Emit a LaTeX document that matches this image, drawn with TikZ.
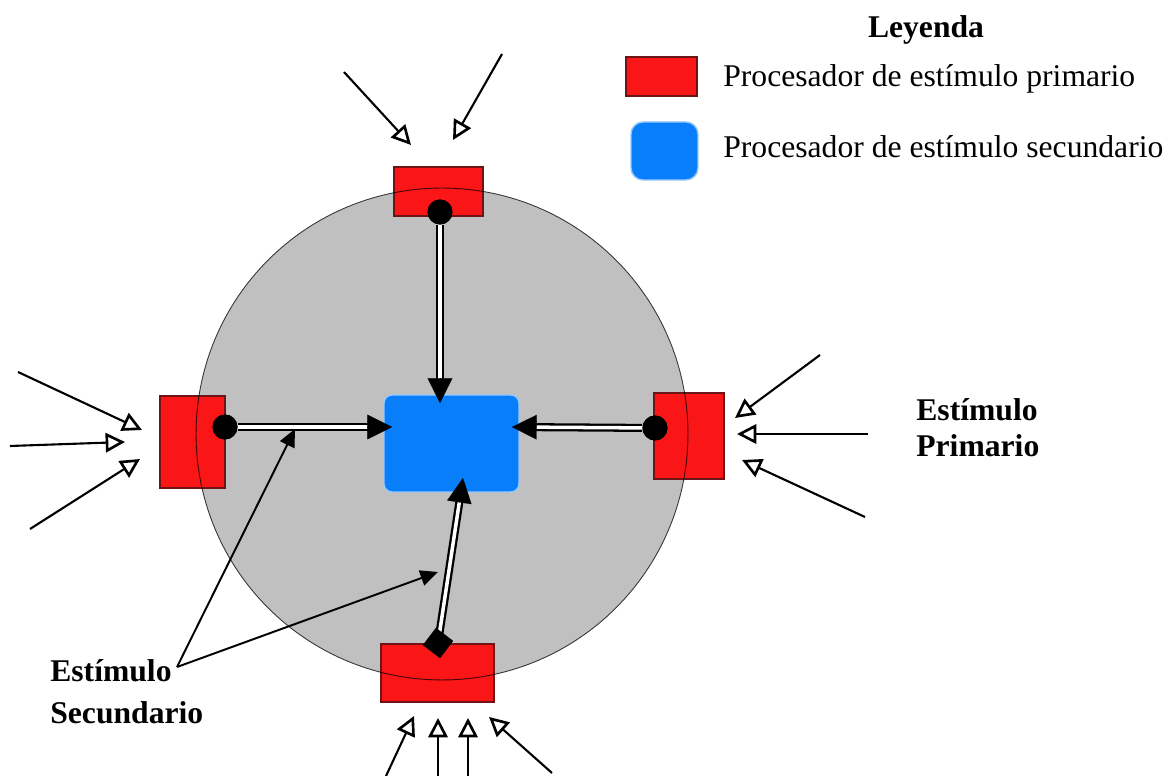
\documentclass[tikz,border=0pt]{standalone}
\usepackage{fontspec}
\setmainfont{Liberation Serif}
\usetikzlibrary{arrows.meta,shapes.geometric,calc}
\definecolor{procred}{RGB}{250,22,22}
\definecolor{procredline}{RGB}{110,20,20}
\definecolor{procblue}{RGB}{8,126,250}
\definecolor{procblueline}{RGB}{150,200,250}
\definecolor{diskgray}{RGB}{192,192,192}
\begin{document}
\begin{tikzpicture}[x=0.02cm,y=-0.02cm,
 prim/.style={rectangle, fill=procred, draw=procredline, line width=0.6pt, inner sep=0},
 secbox/.style={rectangle, rounded corners=0.16cm, fill=procblue, draw=procblueline, line width=0.8pt, inner sep=0},
 dotnode/.style={circle, fill=black, inner sep=0, minimum size=0.5cm},
 dianode/.style={diamond, fill=black, inner sep=0, minimum size=0.62cm},
 link/.style={double=white, draw=black, line width=1.3pt, double distance=2pt, shorten >=8pt},
 linkhead/.style={draw=black, line width=0.1pt, -{Triangle[length=14pt,width=14pt]}},
 inarrow/.style={draw=black, line width=1.2pt, -{Triangle[open,length=11pt,width=11pt,line width=1.5pt]}},
 pointer/.style={draw=black, line width=1.1pt, -{Triangle[length=10pt,width=9pt]}},
 lbl/.style={font=\fontsize{18}{21}\selectfont, inner sep=0},
 boldlbl/.style={font=\fontsize{18}{21}\selectfont\bfseries, inner sep=0, align=left}
]
\useasboundingbox (0,0) rectangle (1171,776);

% disk
\node[circle, fill=diskgray, inner sep=0, minimum size=9.84cm] (disk) at (442,434) {};

% primary processors
\node[prim, minimum width=1.78cm, minimum height=0.98cm] (top) at (438.5,191.5) {};
\node[prim, minimum width=1.3cm, minimum height=1.84cm] (left) at (192.5,442) {};
\node[prim, minimum width=1.4cm, minimum height=1.72cm] (right) at (689,436) {};
\node[prim, minimum width=2.26cm, minimum height=1.16cm] (bottom) at (437.5,673) {};

% disk outline over the boxes
\draw[black, opacity=0.75, line width=0.5pt] (disk.center) circle[radius=4.92cm];

% secondary processor
\node[secbox, minimum width=2.7cm, minimum height=1.94cm] (center) at (451.5,443.5) {};

% legend
\node[boldlbl, anchor=base] (leg) at (926,38) {Leyenda};
\node[prim, minimum width=1.42cm, minimum height=0.78cm] (legred) at (661.5,76.5) {};
\node[secbox, rounded corners=0.24cm, minimum width=1.34cm, minimum height=1.16cm] (legblue) at (664.5,151) {};
\node[lbl, anchor=base west] (legt1) at (723,87) {Procesador de estímulo primario};
\node[lbl, anchor=base west] (legt2) at (723,158) {Procesador de estímulo secundario};

% connection points
\node[dotnode] (dotT) at (440,212) {};
\node[dotnode] (dotL) at (225,427) {};
\node[dotnode] (dotR) at (655,428) {};
\coordinate (sB) at (438,643);
\coordinate (tT) at (440,403);
\coordinate (tL) at (392,427);
\coordinate (tR) at (512,427);
\coordinate (tB) at (463,478);

% double links
\draw[link] (dotT) -- (tT);
\draw[link] (dotL) -- (tL);
\draw[link] (dotR) -- (tR);
\draw[link] (sB) -- (tB);
\draw[linkhead] ($(tT)!14pt!(dotT)$) -- (tT);
\draw[linkhead] ($(tL)!14pt!(dotL)$) -- (tL);
\draw[linkhead] ($(tR)!14pt!(dotR)$) -- (tR);
\draw[linkhead] ($(tB)!14pt!(sB)$) -- (tB);
\node[dianode, rotate=8] (diaB) at (sB) {};
\node[dotnode] at (dotT) {};
\node[dotnode] at (dotL) {};
\node[dotnode] at (dotR) {};

% labels
\node[boldlbl, anchor=west, font=\fontsize{18}{20.5}\selectfont\bfseries] (primlbl) at (916,428) {Estímulo\\Primario};
\node[boldlbl, anchor=west, font=\fontsize{18}{23.8}\selectfont\bfseries] (seclbl) at (50,692) {Estímulo\\Secundario};

% pointers from secondary label
\coordinate (apex) at (177,667);
\coordinate (p1) at (295,429);
\coordinate (p2) at (438,572);
\draw[pointer] (apex) -- (p1);
\draw[pointer] (apex) -- (p2);

% incoming stimuli
\coordinate (a1s) at (344,72);  \coordinate (a1e) at (411,145);
\coordinate (a2s) at (502,54);  \coordinate (a2e) at (453,140);
\coordinate (b1s) at (18,372);  \coordinate (b1e) at (142,430);
\coordinate (b2s) at (10,446);  \coordinate (b2e) at (125,442);
\coordinate (b3s) at (30,529);  \coordinate (b3e) at (140,459);
\coordinate (c1s) at (820,355); \coordinate (c1e) at (735,418);
\coordinate (c2s) at (868,434); \coordinate (c2e) at (737,434);
\coordinate (c3s) at (865,517); \coordinate (c3e) at (742,460);
\coordinate (d1s) at (386,776); \coordinate (d1e) at (414,716);
\coordinate (d2s) at (438,776); \coordinate (d2e) at (438,718);
\coordinate (d3s) at (468,776); \coordinate (d3e) at (468,718);
\coordinate (d4s) at (552,773); \coordinate (d4e) at (489,717);
\foreach \s/\e in {a1s/a1e,a2s/a2e,b1s/b1e,b2s/b2e,b3s/b3e,c1s/c1e,c2s/c2e,c3s/c3e,d1s/d1e,d2s/d2e,d3s/d3e,d4s/d4e}
  \draw[inarrow] (\s) -- (\e);
\end{tikzpicture}
\end{document}
